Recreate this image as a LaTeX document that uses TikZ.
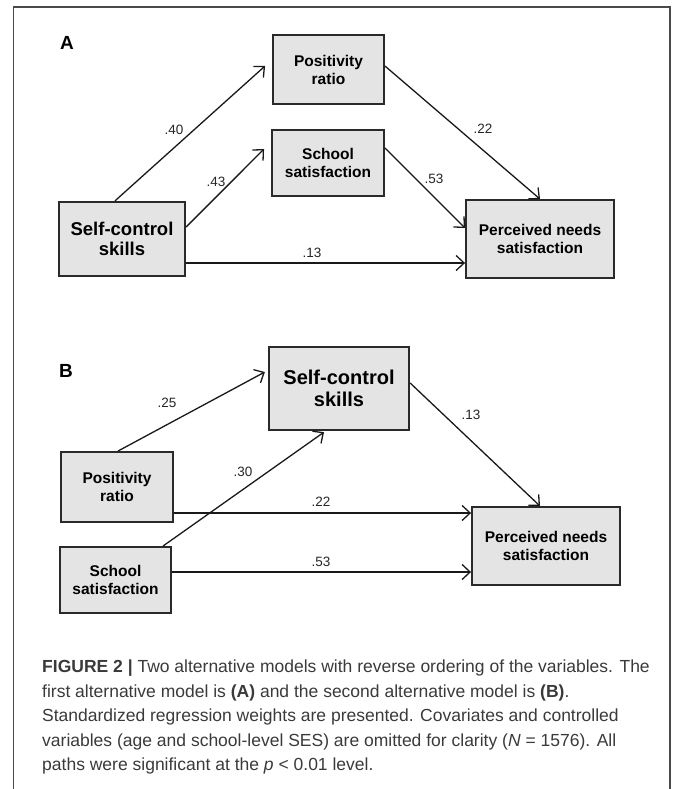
\documentclass[tikz,border=0pt]{standalone}
\usepackage{fontspec}
\setmainfont{Liberation Sans}
\usetikzlibrary{arrows.meta,calc}
\definecolor{boxfill}{HTML}{E4E4E4}
\definecolor{boxline}{HTML}{2A2A2A}
\definecolor{captext}{HTML}{3A3A3A}
\definecolor{framec}{HTML}{4A4A4A}
\tikzset{
  varbox/.style={draw=boxline, fill=boxfill, line width=1.9pt, inner sep=0pt, align=center,
    font=\fontsize{15.5}{18}\selectfont\bfseries},
  bigbox/.style={varbox, line width=2.3pt, font=\fontsize{18.5}{20.5}\selectfont\bfseries},
  path/.style={draw=black!90, line width=1.3pt, -{Straight Barb[length=8pt,width=15pt,line width=1.3pt]}},
  wlabel/.style={font=\fontsize{13.5}{14}\selectfont, text=black!85, inner sep=0pt},
  panel/.style={font=\fontsize{19}{20}\selectfont\bfseries, inner sep=0pt},
  capline/.style={anchor=base west, inner sep=0pt, text=captext, font=\fontsize{17.5}{19}\selectfont}
}
\begin{document}
\begin{tikzpicture}[x=1pt,y=-1pt]
\useasboundingbox (0,0) rectangle (672,789);
% frame
\draw[framec, line width=1.3pt] (13.5,789) -- (13.5,7) -- (670,7) -- (670,789);

% ---------- Panel A ----------
\node[panel] (labA) at (67,43) {A};
\node[varbox, minimum width=111pt, minimum height=69pt] (pra) at (328.5,69.5) {Positivity\\ratio};
\node[varbox, minimum width=112pt, minimum height=66pt] (ssa) at (328,163) {School\\satisfaction};
\node[bigbox, minimum width=126pt, minimum height=74pt] (sca) at (122,239) {Self-control\\skills};
\node[varbox, minimum width=148pt, minimum height=78pt] (pna) at (540,239) {Perceived needs\\satisfaction};

\draw[path] ([xshift=-7pt]sca.north) -- ([xshift=-7pt,yshift=3.5pt]pra.west);
\draw[path] ([yshift=12pt]sca.east) -- ([xshift=-7pt,yshift=14pt]ssa.west);
\coordinate (a3s) at ([yshift=-24pt]sca.east);
\draw[path] (a3s) -- (a3s -| pna.west);
\draw[path] ([yshift=3.5pt]pra.east) -- (pna.north);
\draw[path] ([yshift=15pt]ssa.east) -- ([yshift=11pt]pna.west);

\node[wlabel] (la1) at (174,130) {.40};
\node[wlabel] (la2) at (216,182) {.43};
\node[wlabel] (la3) at (312,253) {.13};
\node[wlabel] (la4) at (483,129) {.22};
\node[wlabel] (la5) at (434,179) {.53};

% ---------- Panel B ----------
\node[panel] (labB) at (66,371) {B};
\node[bigbox, font=\fontsize{20}{21.5}\selectfont\bfseries, minimum width=140pt, minimum height=83pt] (scb) at (339,388.5) {Self-control\\skills};
\node[varbox, minimum width=112pt, minimum height=70pt] (prb) at (117,487) {Positivity\\ratio};
\node[varbox, minimum width=111pt, minimum height=66pt] (ssb) at (115.5,580) {School\\satisfaction};
\node[varbox, minimum width=148pt, minimum height=78pt] (pnb) at (546,546) {Perceived needs\\satisfaction};

\draw[path] ([xshift=1pt]prb.north) -- ([xshift=-3pt,yshift=16.5pt]scb.west);
\draw[path] ([xshift=47.5pt]ssb.north) -- ([xshift=-15pt,yshift=-1pt]scb.south);
\draw[path] ([yshift=5.5pt]scb.east) -- ([xshift=-6pt]pnb.north);
\coordinate (b4s) at ([yshift=-26pt]prb.east);
\draw[path] (b4s) -- (b4s -| pnb.west);
\coordinate (b5s) at ([yshift=8pt]ssb.east);
\draw[path] (b5s) -- (b5s -| pnb.west);

\node[wlabel] (lb1) at (167,403) {.25};
\node[wlabel] (lb2) at (243,472) {.30};
\node[wlabel] (lb3) at (471,415) {.13};
\node[wlabel] (lb4) at (321,502) {.22};
\node[wlabel] (lb5) at (321,562) {.53};

% ---------- Caption ----------
\node[capline] (c1) at (42,672.5) {\textbf{FIGURE 2 |} Two alternative models with reverse ordering of the variables. The};
\node[capline] (c2) at (42,697) {first alternative model is \textbf{(A)} and the second alternative model is \textbf{(B)}.};
\node[capline] (c3) at (42,721.5) {Standardized regression weights are presented. Covariates and controlled};
\node[capline] (c4) at (42,746) {variables (age and school-level SES) are omitted for clarity (\textit{N} = 1576). All};
\node[capline] (c5) at (42,770.5) {paths were significant at the \textit{p} < 0.01 level.};
\end{tikzpicture}
\end{document}
